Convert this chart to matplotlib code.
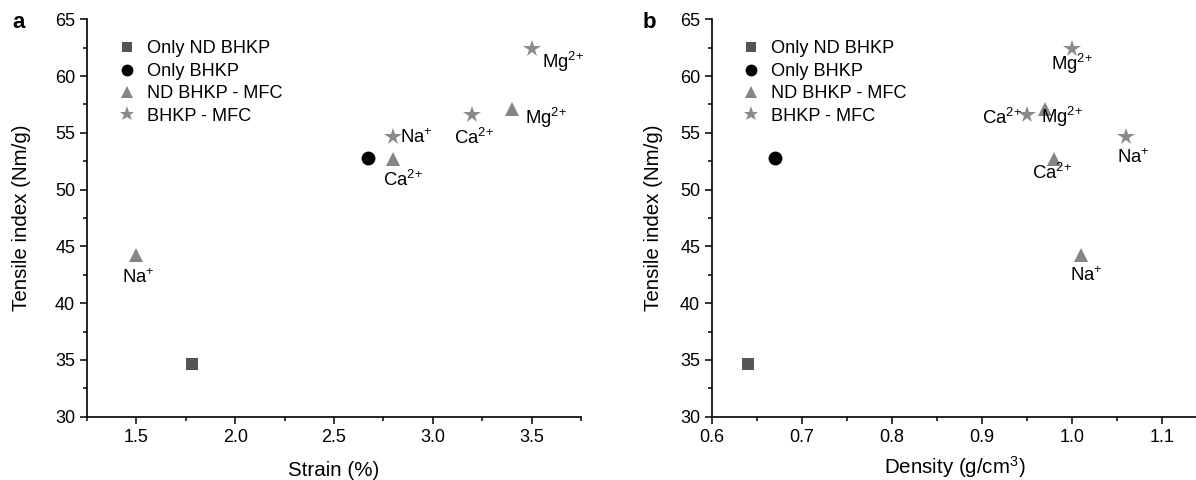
import matplotlib
matplotlib.use("Agg")
import matplotlib.pyplot as plt
from matplotlib.ticker import MultipleLocator, FormatStrFormatter

plt.rcParams['font.family'] = ['Liberation Sans', 'DejaVu Sans']
plt.rcParams['mathtext.fontset'] = 'custom'
plt.rcParams['mathtext.rm'] = 'Liberation Sans'
plt.rcParams['mathtext.it'] = 'Liberation Sans:italic'
plt.rcParams['mathtext.bf'] = 'Liberation Sans:bold'

# Tensile index (Nm/g) of each sample group
series_names = ["Only ND BHKP", "Only BHKP", "ND BHKP - MFC", "BHKP - MFC"]
ions = ["Na$^{{+}}$", "Ca$^{2{+}}$", "Mg$^{2{+}}$"]

tensile_nd = [34.6]
tensile_bhkp = [52.8]
tensile_nd_mfc = [44.2, 52.7, 57.1]      # Na+, Ca2+, Mg2+
tensile_bhkp_mfc = [54.6, 56.6, 62.4]    # Na+, Ca2+, Mg2+

# Strain (%)
strain_nd = [1.78]
strain_bhkp = [2.67]
strain_nd_mfc = [1.50, 2.80, 3.40]
strain_bhkp_mfc = [2.80, 3.20, 3.50]

# Density (g/cm3)
density_nd = [0.64]
density_bhkp = [0.67]
density_nd_mfc = [1.01, 0.98, 0.97]
density_bhkp_mfc = [1.06, 0.95, 1.00]

styles = [
    dict(marker='s', color='#555555', ms=9),
    dict(marker='o', color='#000000', ms=10),
    dict(marker='^', color='#858585', ms=10),
    dict(marker='*', color='#8a8a8a', ms=13),
]

fig = plt.figure(figsize=(11.96, 4.80), dpi=100)
axA = fig.add_axes([87/1196, 1-416.7/480, (581-87)/1196, (416.7-19.3)/480])
axB = fig.add_axes([712/1196, 1-416.7/480, (1198-712)/1196, (416.7-19.3)/480])


def draw_panel(ax, xs, xlabel, xlim, xmajor, xminor, labels_nd, labels_bhkp,
               ylabelpad, xlabelpad):
    ys = [tensile_nd, tensile_bhkp, tensile_nd_mfc, tensile_bhkp_mfc]
    handles = []
    for name, x, y, st in zip(series_names, xs, ys, styles):
        h, = ax.plot(x, y, linestyle='none', marker=st['marker'], color=st['color'],
                     markersize=st['ms'], markeredgewidth=0, label=name, zorder=3)
        handles.append(h)
    for (ion, x, y), (dx, dy, ha) in zip(zip(ions, xs[2], ys[2]), labels_nd):
        ax.annotate(ion, (x, y), xytext=(dx, -dy), textcoords='offset pixels',
                    ha=ha, va='center', fontsize=13.3)
    for (ion, x, y), (dx, dy, ha) in zip(zip(ions, xs[3], ys[3]), labels_bhkp):
        ax.annotate(ion, (x, y), xytext=(dx, -dy), textcoords='offset pixels',
                    ha=ha, va='center', fontsize=13.3)
    ax.set_xlim(*xlim)
    ax.set_ylim(30, 65)
    ax.xaxis.set_major_locator(MultipleLocator(xmajor))
    ax.xaxis.set_minor_locator(MultipleLocator(xminor))
    ax.xaxis.set_major_formatter(FormatStrFormatter('%.1f'))
    ax.yaxis.set_major_locator(MultipleLocator(5))
    ax.yaxis.set_minor_locator(MultipleLocator(2.5))
    ax.tick_params(which='both', direction='out', width=1.1, labelsize=13)
    ax.tick_params(which='major', length=5)
    ax.tick_params(which='minor', length=3)
    for s in ['top', 'right']:
        ax.spines[s].set_visible(False)
    for s in ['left', 'bottom']:
        ax.spines[s].set_linewidth(1.2)
    ax.set_xlabel(xlabel, fontsize=14.8, labelpad=xlabelpad)
    ax.set_ylabel("Tensile index (Nm/g)", fontsize=14.8, labelpad=ylabelpad)
    ax.legend(handles=handles, loc='upper left', bbox_to_anchor=(0.045, 0.965),
              frameon=False, fontsize=13.1, handletextpad=0.55, labelspacing=0.3,
              borderaxespad=0, handlelength=1.1, markerscale=0.85)


draw_panel(axA, [strain_nd, strain_bhkp, strain_nd_mfc, strain_bhkp_mfc],
           "Strain (%)", (1.25, 3.75), 0.5, 0.25,
           [(2, 22, 'center'), (10, 21, 'center'), (13, 9, 'left')],
           [(7, 0, 'left'), (2, 23, 'center'), (10, 13, 'left')],
           17, 11)

draw_panel(axB, [density_nd, density_bhkp, density_nd_mfc, density_bhkp_mfc],
           "Density (g/cm$^{3}$)", (0.6, 1.14), 0.1, 0.05,
           [(5, 20, 'center'), (-2, 14, 'center'), (17, 8, 'center')],
           [(7, 20, 'center'), (-5, 3, 'right'), (0, 15, 'center')],
           12, 6)

fig.text(12/1196, 1-22/480, "a", fontsize=16, fontweight='bold', va='center', ha='left')
fig.text(643/1196, 1-22/480, "b", fontsize=16, fontweight='bold', va='center', ha='left')

fig.savefig("out.png", dpi=100)
